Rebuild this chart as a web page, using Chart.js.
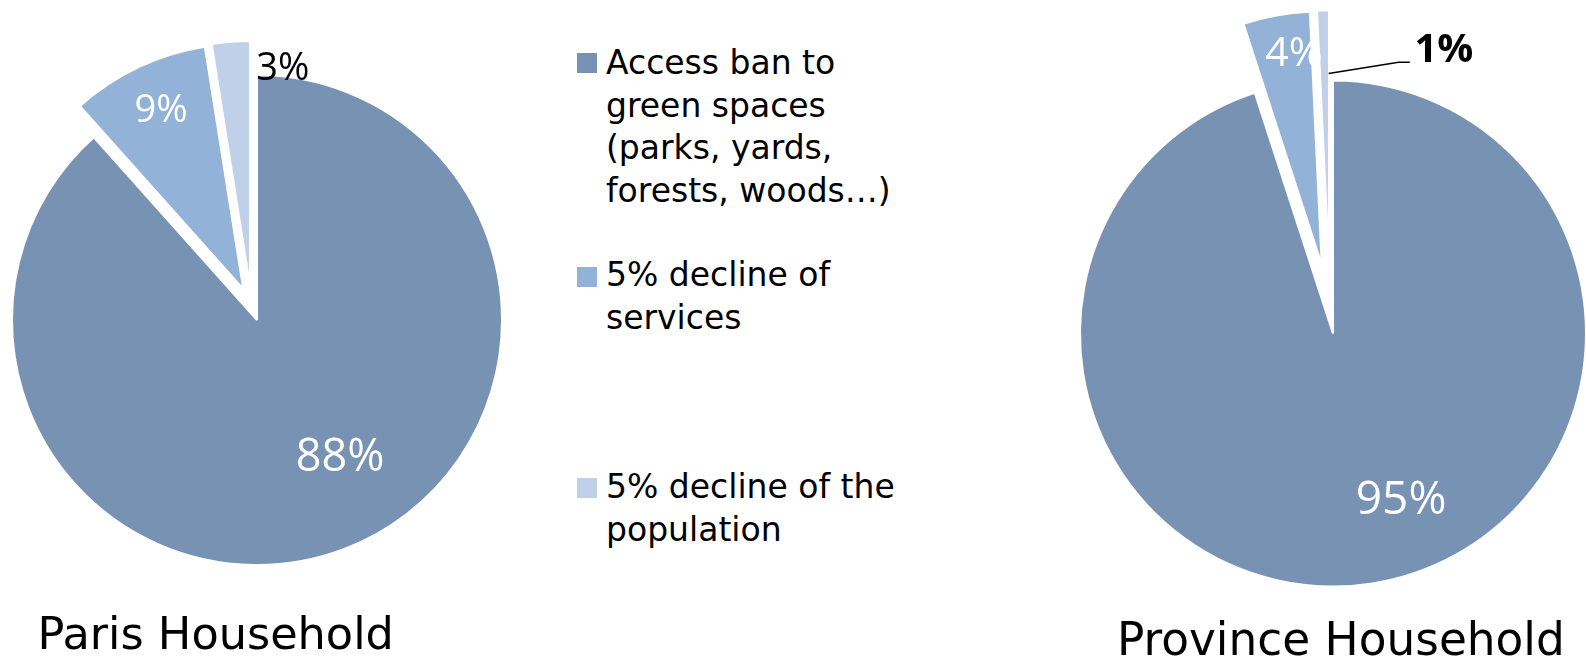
<!DOCTYPE html>
<html><head><meta charset="utf-8">
<script src="https://cdn.jsdelivr.net/npm/chart.js@4/dist/chart.umd.min.js"></script>
<style>
html,body{margin:0;padding:0;background:#fff;}
body{width:1586px;height:658px;overflow:hidden;position:relative;font-family:"DejaVu Sans",sans-serif;}
canvas{position:absolute;}
#c1{left:0;top:0;}
#c2{left:1074px;top:0;}
.leg{position:absolute;left:606px;font-size:33px;line-height:42.5px;color:#000;white-space:nowrap;}
.sw{position:absolute;left:577px;width:20px;height:20px;}
.title{position:absolute;color:#000;white-space:nowrap;line-height:1;}
</style></head><body>
<canvas id="c1" width="514" height="640"></canvas>
<canvas id="c2" width="518" height="667"></canvas>
<div id="legend"></div>
<div class="title" id="t1" style="left:37.5px;top:612px;font-size:44.6px;"></div>
<div class="title" id="t2" style="left:1117px;top:617px;font-size:45.4px;"></div>
<script>
// ---- data ----
const categories = ["Access ban to green spaces (parks, yards, forests, woods…)", "5% decline of services", "5% decline of the population"];
const legendLines = [["Access ban to", "green spaces", "(parks, yards,", "forests, woods…)"], ["5% decline of", "services"], ["5% decline of the", "population"]];
const parisValues = [88.4, 9.1, 2.5];
const provinceValues = [95.0, 4.25, 0.75];
const chartTitles = ["Paris Household", "Province Household"];

// ---- style ----
const colors = ["#7892B4", "#93B2D8", "#BFD0E8"];
const legendTops = [42, 254, 466];
const swatchTops = [53, 267, 478];

// legend (HTML)
const legEl = document.getElementById('legend');
legendLines.forEach((lines, i) => {
  const sw = document.createElement('div');
  sw.className = 'sw'; sw.style.top = swatchTops[i] + 'px'; sw.style.background = colors[i];
  legEl.appendChild(sw);
  const t = document.createElement('div');
  t.className = 'leg'; t.style.top = legendTops[i] + 'px';
  t.innerHTML = lines.join('<br>');
  legEl.appendChild(t);
});
document.getElementById('t1').textContent = chartTitles[0];
document.getElementById('t2').textContent = chartTitles[1];

// explode selected slices: [distance px, direction in degrees clockwise from 12 o'clock]
const explodePlugin = {
  id: 'explode',
  afterDatasetUpdate(chart, args, opts) {
    const vec = opts.vectors || [];
    args.meta.data.forEach((arc, i) => {
      const v = vec[i];
      if (!v || !v[0]) return;
      const th = v[1] * Math.PI / 180;
      arc.x += Math.sin(th) * v[0];
      arc.y -= Math.cos(th) * v[0];
    });
  }
};

// percentage labels
const labelPlugin = {
  id: 'sliceLabels',
  afterDatasetsDraw(chart, args, opts) {
    const ctx = chart.ctx;
    const meta = chart.getDatasetMeta(0);
    const vals = chart.data.datasets[0].data;
    const pt = (arc, p) => {
      const th = p[1] * Math.PI / 180, d = p[0] * arc.outerRadius;
      return [arc.x + Math.sin(th) * d, arc.y - Math.cos(th) * d];
    };
    meta.data.forEach((arc, i) => {
      const spec = opts.labels[i];
      ctx.save();
      if (spec.leader) {
        ctx.beginPath();
        spec.leader.forEach((p, k) => { const q = pt(arc, p); k ? ctx.lineTo(q[0], q[1]) : ctx.moveTo(q[0], q[1]); });
        ctx.strokeStyle = '#000'; ctx.lineWidth = 1.5; ctx.stroke();
      }
      const size = spec.size;
      ctx.font = (spec.weight || 'normal') + ' ' + size + 'px "Open Sans", "DejaVu Sans", sans-serif';
      ctx.fillStyle = spec.color;
      ctx.textAlign = 'center';
      ctx.textBaseline = 'alphabetic';
      const q = pt(arc, [spec.dist, spec.angle]);
      ctx.fillText(Math.round(vals[i]) + '%', q[0], q[1] + 0.357 * size);
      ctx.restore();
    });
  }
};

function makePie(id, values, radius, vectors, labels) {
  return new Chart(document.getElementById(id), {
    type: 'pie',
    data: {
      labels: categories,
      datasets: [{
        data: values,
        backgroundColor: colors,
        borderColor: '#ffffff',
        borderWidth: 2
      }]
    },
    options: {
      responsive: false,
      animation: false,
      events: [],
      radius: radius,
      layout: { padding: 0 },
      plugins: {
        legend: { display: false },
        tooltip: { enabled: false },
        title: { display: false },
        explode: { vectors: vectors },
        sliceLabels: { labels: labels }
      }
    },
    plugins: [explodePlugin, labelPlugin]
  });
}

makePie('c1', parisValues, 245, [null, [34.1, 336.1], [34.7, 348.4]], [
  { dist: 0.647, angle: 148.4, color: '#fff', size: 45 },
  { dist: 0.809, angle: 335.5, color: '#fff', size: 38 },
  { dist: 0.908, angle: 8.5, color: '#000', size: 38 }
]);

makePie('c2', provinceValues, 253, [null, [69.9, 350.7], [70.3, 356.7]], [
  { dist: 0.7036, angle: 157.5, color: '#fff', size: 46 },
  { dist: 0.851, angle: 352.6, color: '#fff', size: 41 },
  { dist: 0.965, angle: 28.1, color: '#000', weight: 'bold', size: 40,
    leader: [[0.750, 359.9], [0.841, 19.1], [0.8565, 21.9]] }
]);
</script>
</body></html>
